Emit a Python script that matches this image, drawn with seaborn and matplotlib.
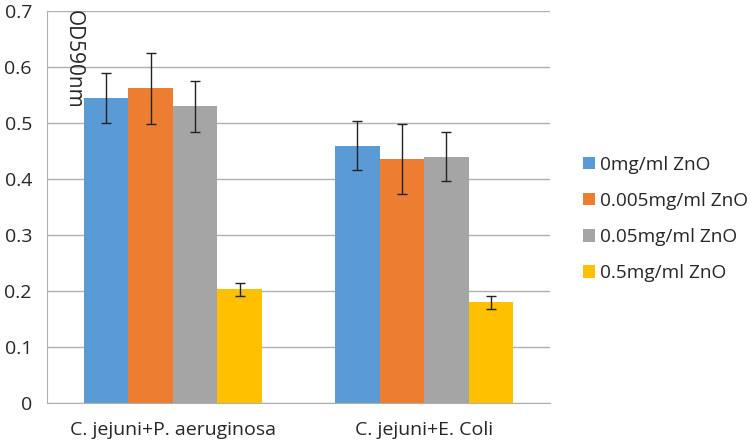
import numpy as np
import pandas as pd
import seaborn as sns
import matplotlib.pyplot as plt

groups = ["C. jejuni+P. aeruginosa", "C. jejuni+E. Coli"]
doses = ["0mg/ml ZnO", "0.005mg/ml ZnO", "0.05mg/ml ZnO", "0.5mg/ml ZnO"]
od_pa = [0.545, 0.562, 0.530, 0.203]
od_ec = [0.460, 0.436, 0.440, 0.180]
err_pa = [0.044, 0.063, 0.045, 0.011]
err_ec = [0.043, 0.063, 0.044, 0.011]
colors = ["#5b9bd5", "#ed7d31", "#a5a5a5", "#ffc000"]

df = pd.DataFrame({
    "group": [groups[0]] * 4 + [groups[1]] * 4,
    "dose": doses * 2,
    "od": od_pa + od_ec,
    "err": err_pa + err_ec,
})

sns.set_style("white")
plt.rcParams["font.family"] = ["Open Sans", "DejaVu Sans"]

fig = plt.figure(figsize=(7.5, 4.46), dpi=100)
ax = fig.add_axes([0.063, 0.096, 0.67, 0.879])

sns.barplot(data=df, x="group", y="od", hue="dose", order=groups,
            hue_order=doses, palette=colors, width=0.71, errorbar=None,
            saturation=1, linewidth=0, ax=ax)

# error bars on top of each bar
for container, dose in zip(ax.containers, doses):
    sub = df[df["dose"] == dose].set_index("group").loc[groups]
    xs = [b.get_x() + b.get_width() / 2 for b in container]
    ax.errorbar(xs, sub["od"], yerr=sub["err"], fmt="none", ecolor="#222222",
                elinewidth=1, capsize=3.4, capthick=1)

ax.set_ylim(0, 0.7)
ax.set_xlim(-0.5, 1.5)
ax.set_yticks(np.arange(0, 0.71, 0.1))
ax.set_yticklabels(["0", "0.1", "0.2", "0.3", "0.4", "0.5", "0.6", "0.7"])
ax.yaxis.grid(True, color="#b0b0b0", linewidth=1)
ax.set_axisbelow(True)
for s in ["top", "right"]:
    ax.spines[s].set_visible(False)
for s in ["left", "bottom"]:
    ax.spines[s].set_color("#b0b0b0")
ax.tick_params(axis="y", length=4, color="#b0b0b0", labelsize=14, pad=7)
ax.tick_params(axis="x", length=0, labelsize=14, pad=13)
ax.set_xticks([-0.5, 0.5, 1.5], minor=True)
ax.tick_params(axis="x", which="minor", length=5, color="#b0b0b0")
ax.set_xlabel("")
ax.set_ylabel("")
ax.text(0.03, 1.003, "OD590nm", transform=ax.transAxes, rotation=-90,
        ha="left", va="top", fontsize=15)

handles, labels = ax.get_legend_handles_labels()
ax.legend(handles, labels, loc="center left", bbox_to_anchor=(0.777, 0.509),
          bbox_transform=fig.transFigure, frameon=False, fontsize=13.7,
          handlelength=0.63, handleheight=0.63, handletextpad=0.3,
          labelspacing=0.95, borderpad=0, borderaxespad=0)

fig.savefig("out.png", dpi=100)
